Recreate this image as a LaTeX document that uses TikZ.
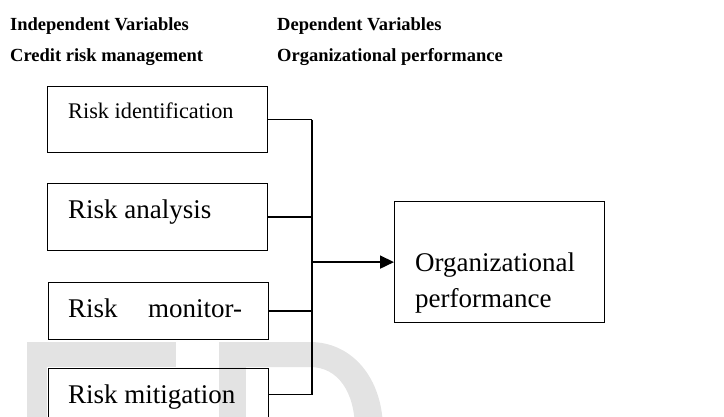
\documentclass[tikz,border=0pt]{standalone}
\usepackage{fontspec}
\setmainfont{Liberation Serif}
\usetikzlibrary{math, arrows.meta}
\tikzset{
	heading/.style={anchor=base west, inner sep=0pt, font=\fontsize{18.5}{22}\selectfont\bfseries},
	factor/.style={draw, line width=1.2pt, minimum width=220pt, inner sep=0pt, anchor=north west},
	outcome/.style={draw, line width=1.2pt, minimum width=210pt, minimum height=121pt, inner sep=0pt, anchor=north west},
	caption/.style={anchor=base west, inner sep=0pt, font=\fontsize{27}{36}\selectfont},
	link/.style={line width=1.2pt},
	shade/.style={fill=gray!22, draw=none}
}

\begin{document}
\begin{tikzpicture}[x=1pt, y=-1pt]
	\tikzmath{\bus = 312;}
	\useasboundingbox (0, 0) rectangle (724, 417);
	\clip (0, 0) rectangle (724, 417);

	% faint lettering in the background
	\fill[shade] (27, 342) rectangle (47, 430);
	\fill[shade] (27, 342) rectangle (176, 367);
	\fill[shade] (219, 342) rectangle (246, 430);
	\fill[shade] (246, 342) -- (310, 342) .. controls (352, 342) and (383, 378) .. (383, 430)
		-- (355, 430) .. controls (355, 392) and (338, 367) .. (310, 367) -- (246, 367) -- cycle;

	% headings
	\node[heading] (indep)  at (10, 31)  {Independent Variables};
	\node[heading] (dep)    at (277, 31) {Dependent Variables};
	\node[heading] (credit) at (10, 62)  {Credit risk management};
	\node[heading] (org)    at (277, 62) {Organizational performance};

	% the four factors
	\node[factor, minimum height=66pt] (ident) at (47, 86)  {};
	\node[factor, minimum height=67pt] (anal)  at (47, 183) {};
	\node[factor, minimum height=57pt] (monit) at (48, 282) {};
	\node[factor, minimum height=52pt] (mitig) at (48, 368) {};

	\node[caption, font=\fontsize{22.3}{26}\selectfont] (identtext) at (68, 119) {Risk identification};
	\node[caption] (analtext)  at (68, 219) {Risk analysis};
	\node[caption] (monittext) at (68, 318) {Risk\hspace*{30.5pt}monitor-};
	\node[caption] (mitigtext) at (68, 403) {Risk mitigation};

	% outcome
	\node[outcome] (perf) at (394, 201) {};
	\node[caption, align=left] (perftext) at (415, 308) {Organizational\\performance};

	% joining lines
	\coordinate (top) at (\bus, 0);
	\draw[link] (ident.east) -- (ident.east -| top);
	\draw[link] (anal.east)  -- (anal.east -| top);
	\draw[link] (monit.east) -- (monit.east -| top);
	\draw[link] (mitig.east) -- (mitig.east -| top);
	\draw[link] (ident.east -| top) -- (mitig.east -| top);
	\draw[link, line width=1.7pt, -{Triangle[length=14pt, width=13pt]}] (perf.west -| top) -- (perf.west);
\end{tikzpicture}
\end{document}
